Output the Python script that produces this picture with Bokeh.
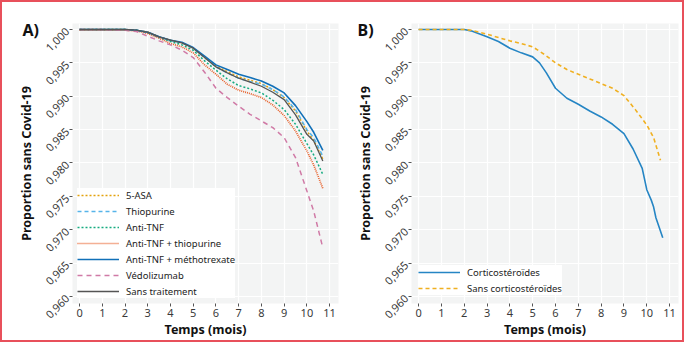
import math
from bokeh.plotting import figure
from bokeh.layouts import row
from bokeh.models import FixedTicker, CustomJSTickFormatter, Range1d, Title
from bokeh.embed import file_html
from bokeh.resources import INLINE

# ---------------- data ----------------
x_ticks = [0, 1, 2, 3, 4, 5, 6, 7, 8, 9, 10, 11]
y_ticks = [0.960, 0.965, 0.970, 0.975, 0.980, 0.985, 0.990, 0.995, 1.000]

t_a = [0, 1, 2, 2.5, 3, 3.5, 4, 4.5, 5, 5.5, 6, 6.5, 7, 7.5, 8, 8.5, 9, 9.5, 10, 10.3, 10.7]

asa5 = [1.0, 1.0, 1.0, 0.9999, 0.9996, 0.9989, 0.9984, 0.9980, 0.9972, 0.9958, 0.9945, 0.9937,
        0.9929, 0.9924, 0.9919, 0.9910, 0.9898, 0.9878, 0.9848, 0.9834, 0.9806]
thiopurine = [1.0, 1.0, 1.0, 0.9999, 0.9996, 0.9989, 0.9984, 0.9980, 0.9972, 0.9958, 0.9944, 0.9935,
              0.9927, 0.9922, 0.9918, 0.9910, 0.9899, 0.9880, 0.9850, 0.9838, 0.9810]
anti_tnf = [1.0, 1.0, 1.0, 0.9999, 0.9995, 0.9988, 0.9982, 0.9977, 0.9969, 0.9953, 0.9939, 0.9926,
            0.9916, 0.9911, 0.9905, 0.9894, 0.9880, 0.9858, 0.9829, 0.9812, 0.9783]
anti_tnf_thio = [0.9999, 0.9999, 0.9999, 0.9998, 0.9994, 0.9987, 0.9979, 0.9974, 0.9965, 0.9947, 0.9933,
                 0.9918, 0.9909, 0.9904, 0.9898, 0.9887, 0.9871, 0.9848, 0.9818, 0.9797, 0.9762]
anti_tnf_mtx = [1.0, 1.0, 1.0, 0.9999, 0.9996, 0.9989, 0.9984, 0.9981, 0.9973, 0.9960, 0.9947, 0.9940,
                0.9933, 0.9928, 0.9923, 0.9915, 0.9905, 0.9886, 0.9862, 0.9846, 0.9819]
vedolizumab = [1.0, 1.0, 0.9999, 0.9997, 0.9990, 0.9983, 0.9977, 0.9969, 0.9958, 0.9936, 0.9912, 0.9898,
               0.9885, 0.9873, 0.9863, 0.9853, 0.9838, 0.9808, 0.9758, 0.9728, 0.9673]
sans_traitement = [1.0, 1.0, 1.0, 0.9999, 0.9996, 0.9989, 0.9984, 0.9980, 0.9972, 0.9958, 0.9944, 0.9935,
                   0.9927, 0.9921, 0.9915, 0.9906, 0.9895, 0.9872, 0.9843, 0.9833, 0.9803]

t_cortico = [0, 1, 2, 2.3, 3, 3.5, 4, 4.5, 5, 5.3, 5.6, 6, 6.5, 7, 7.5, 8, 8.5, 9, 9.4, 9.8,
             10.0, 10.2, 10.3, 10.4, 10.7]
cortico = [1.0, 1.0, 1.0, 0.9998, 0.9989, 0.9982, 0.9972, 0.9965, 0.9959, 0.9950, 0.9935, 0.9912,
           0.9897, 0.9888, 0.9878, 0.9869, 0.9858, 0.9844, 0.9821, 0.9792, 0.9760, 0.9744,
           0.9734, 0.9718, 0.9688]
t_sans_cortico = [0, 1, 2, 2.3, 3, 3.5, 4, 4.5, 5, 5.5, 6, 6.5, 7, 7.5, 8, 8.5, 9, 9.5, 10, 10.3, 10.6]
sans_cortico = [1.0, 1.0, 1.0, 0.9999, 0.9993, 0.9988, 0.9983, 0.9979, 0.9974, 0.9963, 0.9950, 0.9940,
                0.9933, 0.9926, 0.9919, 0.9912, 0.9901, 0.9880, 0.9857, 0.9838, 0.9804]

FONT = "Noto Sans"
BG = "#f3f4f4"


def make_fig(width, min_left, min_right, panel_label, label_offset):
    p = figure(width=width, height=338, output_backend="svg", toolbar_location=None,
               x_range=Range1d(-0.31, 11.39), y_range=Range1d(0.95895, 1.0009),
               min_border_left=min_left, min_border_right=min_right, min_border_top=21,
               min_border_bottom=37)
    p.title = Title(text=panel_label, align="left", vertical_align="bottom", offset=label_offset,
                    standoff=-34, text_font=FONT, text_font_size="16px", text_font_style="bold",
                    text_color="#111111")
    p.background_fill_color = BG
    p.border_fill_color = "white"
    p.outline_line_color = None
    p.xgrid.grid_line_color = "white"
    p.ygrid.grid_line_color = "white"
    p.xgrid.grid_line_width = 1.2
    p.ygrid.grid_line_width = 1.2
    p.xaxis.ticker = FixedTicker(ticks=x_ticks)
    p.yaxis.ticker = FixedTicker(ticks=y_ticks)
    p.yaxis.formatter = CustomJSTickFormatter(code="return tick.toFixed(3).replace('.', ',');")
    p.yaxis.major_label_orientation = math.pi / 4
    for ax in (p.xaxis, p.yaxis):
        ax.axis_line_color = None
        ax.minor_tick_line_color = None
        ax.major_tick_line_color = "#555555"
        ax.major_tick_in = 0
        ax.major_tick_out = 3
        ax.major_label_text_font = FONT
        ax.major_label_text_font_size = "11px"
        ax.major_label_text_color = "#3a3a3a"
        ax.major_label_standoff = 2
        ax.axis_label_text_font = FONT
        ax.axis_label_text_font_size = "12.5px"
        ax.axis_label_text_font_style = "bold"
        ax.axis_label_text_color = "#111111"
        ax.axis_label_standoff = 1
    p.yaxis.axis_label_standoff = 4
    p.xaxis.axis_label = "Temps (mois)"
    p.yaxis.axis_label = "Proportion sans Covid-19"
    return p


def style_legend(p, loc):
    lg = p.legend[0]
    lg.location = loc
    lg.background_fill_color = "white"
    lg.background_fill_alpha = 1
    lg.border_line_color = None
    lg.label_text_font = FONT
    lg.label_text_font_size = "9.5px"
    lg.label_text_color = "#222222"
    lg.glyph_width = 42
    lg.glyph_height = 14
    lg.label_height = 14
    lg.label_standoff = 7
    lg.spacing = 2
    lg.padding = 4
    lg.margin = 0


# ---------------- panel A ----------------
pa = make_fig(346, 70, 10, "A)", -50)
series_a = [
    ("5-ASA", asa5, "#e3a20c", "2 2", 1.5),
    ("Thiopurine", thiopurine, "#56b4e9", "4 3", 1.5),
    ("Anti-TNF", anti_tnf, "#16ab80", "2 2", 1.5),
    ("Anti-TNF + thiopurine", anti_tnf_thio, "#e8602a", "1 1", 1.7),
    ("Anti-TNF + méthotrexate", anti_tnf_mtx, "#1170b8", "solid", 1.6),
    ("Védolizumab", vedolizumab, "#d07aa6", "5 4", 1.5),
    ("Sans traitement", sans_traitement, "#555555", "solid", 1.3),
]
for name, ys, col, dash, w in series_a:
    pa.line(t_a, ys, line_color=col, line_dash=dash, line_width=w, legend_label=name)
style_legend(pa, (5, 5))

# ---------------- panel B ----------------
pb = make_fig(334, 63, 4, "B)", -54)
pb.line(t_cortico, cortico, line_color="#2585c4", line_width=1.6, legend_label="Corticostéroïdes")
pb.line(t_sans_cortico, sans_cortico, line_color="#f0b021", line_width=1.6, line_dash="4 3",
        legend_label="Sans corticostéroïdes")
style_legend(pb, (7, 8))

layout = row(pa, pb, styles={"border": "2px solid #e8505b"})
open("out.html", "w").write(file_html(layout, INLINE))
